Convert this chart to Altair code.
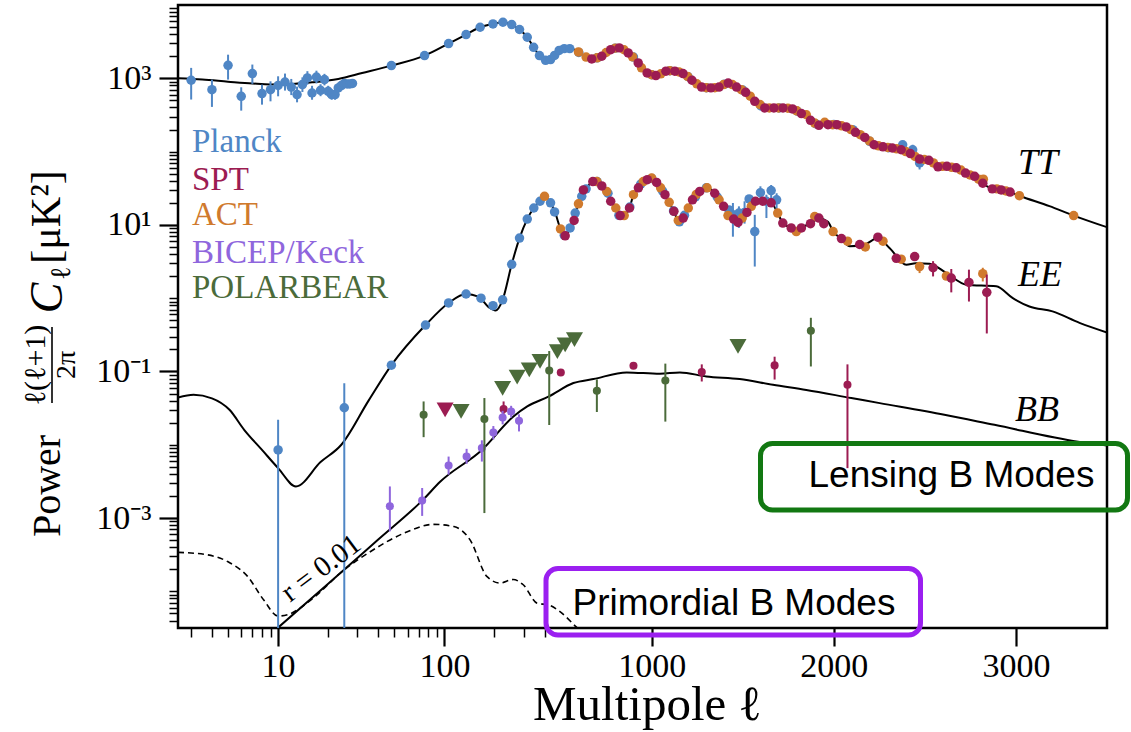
import altair as alt
import numpy as np
import pandas as pd

# ---------------------------------------------------------------------------
# Multipole axis: logarithmic up to ell = 500, linear above it.
# ---------------------------------------------------------------------------
L500 = float(np.log10(500.0))
K_LIN = 913.0  # multipoles per axis unit on the linear part
XT = f"datum.l <= 500 ? log(datum.l) / LN10 : {L500} + (datum.l - 500) / {K_LIN}"
X_MIN = float(np.log10(2.5))
X_MAX = L500 + 3000.0 / K_LIN
Y_MIN, Y_MAX = 10 ** -4.5, 1.0e4

SERIF = "Liberation Serif"
SANS = "Liberation Sans"

PLANCK = "#4f86c5"
SPT = "#9c1c52"
ACT = "#d07a2d"
BK = "#8f66dd"
PB = "#4b6b3a"

# ---------------------------------------------------------------------------
# Theory spectra, D_ell [uK^2]
# ---------------------------------------------------------------------------
tt_theory_l = [2.5, 3.5, 5, 7, 9, 12, 16, 23, 32, 48, 76, 106, 135, 164, 196, 225, 254, 283,
               315, 344, 373, 406, 435, 478, 525, 556, 598, 633, 671, 726, 775, 822, 871, 926,
               975, 1023, 1078, 1127, 1172, 1221, 1274, 1325, 1370, 1420, 1466, 1516, 1566,
               1621, 1671, 1721, 1773, 1822, 1872, 1918, 1968, 2017, 2068, 2119, 2170, 2221,
               2270, 2321, 2370, 2420, 2471, 2522, 2572, 2621, 2672, 2723, 2773, 2818, 2870,
               2919, 2968, 3019, 3184, 3317, 3500]
tt_theory_v = [1000, 960, 900, 850, 825, 835, 880, 980, 1180, 1490, 2040, 2980, 3950, 4970,
               5520, 5820, 5400, 4630, 3630, 2650, 2040, 1760, 1800, 2264, 2540, 2540, 2290,
               2000, 1840, 2000, 2460, 2600, 2220, 1620, 1185, 1090, 1250, 1250, 1160, 940,
               760, 740, 760, 860, 760, 644, 485, 400, 390, 394, 382, 330, 267, 228, 233, 233,
               217, 183, 156, 124, 116, 112, 106, 94, 79, 76, 62, 63, 60, 51, 46, 37, 31, 30,
               28, 25, 18, 13.4, 9.3]

ee_theory_l = [2.5, 3.1, 4, 5.1, 6.25, 8, 10, 12.8, 18, 24, 35, 48, 77, 106, 135, 160, 185,
               203, 224, 254, 283, 315, 345, 376, 405, 435, 466, 499, 525, 552, 584, 616, 644,
               677, 699, 726, 753, 775, 803, 827, 849, 878, 900, 927, 954, 976, 1000, 1027,
               1049, 1073, 1096, 1122, 1146, 1173, 1201, 1224, 1264, 1304, 1346, 1370, 1395,
               1419, 1450, 1474, 1497, 1523, 1547, 1570, 1610, 1656, 1692, 1720, 1766, 1802,
               1840, 1880, 1918, 1968, 1996, 2042, 2088, 2170, 2242, 2307, 2398, 2450, 2526,
               2618, 2728, 2892, 2983, 3074, 3201, 3349, 3500]
ee_theory_v = [0.044, 0.048, 0.043, 0.030, 0.016, 0.0085, 0.0048, 0.0027, 0.0058, 0.010, 0.040,
               0.122, 0.43, 0.86, 1.14, 1.05, 0.75, 0.68, 0.95, 2.9, 6.6, 12, 17, 21, 23.7,
               20, 14.2, 8.8, 7.1, 9.1, 15.3, 24.5, 31.9, 39, 39.5, 34, 28.6, 21, 17, 13.4,
               13.4, 17, 25.8, 32, 39, 41.4, 43.6, 38, 32, 25.8, 20.3, 15.3, 11.5, 12.4, 17,
               22, 28.6, 32, 27, 22, 17.9, 13.4, 12, 11, 12.4, 14.8, 17.9, 20.5, 21, 20, 14.5,
               10.6, 9.1, 8.6, 9.6, 10.8, 12.2, 11, 8.1, 6.5, 5.1, 5.4, 6.6, 4.8, 2.86, 3.0,
               2.95, 2.2, 1.53, 1.45, 1.0, 0.77, 0.66, 0.46, 0.34]

bb_lens_l = [10, 20, 40, 73.5, 94.6, 168, 260, 315, 425, 570, 680, 863, 1045, 1155, 1300,
             1483, 1666, 1849, 2096, 2252, 2607, 2882, 3341, 3500]
bb_lens_v = [3.2e-5, 1.27e-4, 5.1e-4, 1.73e-3, 3.15e-3, 8.5e-3, 0.0243, 0.0333, 0.0456,
             0.0695, 0.0788, 0.097, 0.093, 0.097, 0.0855, 0.0788, 0.0658, 0.056, 0.0434,
             0.037, 0.0257, 0.0187, 0.011, 0.0098]

bb_r001_l = [2.5, 3.6, 4.97, 6.55, 8.2, 10, 11.4, 15.7, 24.9, 36, 57, 86, 114, 143, 180, 216,
             259, 298, 361, 425, 500, 584, 716]
bb_r001_v = [3.4e-4, 3.2e-4, 2.55e-4, 1.6e-4, 7.6e-5, 4.6e-5, 4.8e-5, 7.6e-5, 1.96e-4, 3.5e-4,
             6.2e-4, 8.2e-4, 7.65e-4, 5.0e-4, 1.6e-4, 1.3e-4, 1.45e-4, 1.23e-4, 6.9e-5, 6.5e-5,
             5.2e-5, 3.3e-5, 1.6e-5]

# ---------------------------------------------------------------------------
# Planck
# ---------------------------------------------------------------------------
planck_tt_lowl_l = [3, 4, 5, 6, 7, 8, 9, 10, 11, 12, 13, 14, 15, 16, 17, 18, 19, 20, 21, 22,
                    23, 24, 25, 26, 27, 28]
planck_tt_lowl_v = [940, 700, 1505, 568, 1160, 618, 700, 800, 890, 760, 600, 820, 1010, 630,
                    1040, 686, 960, 665, 600, 600, 740, 795, 846, 838, 838, 850]
planck_tt_lowl_lo = [513, 407, 960, 362, 840, 437, 485, 568, 680, 590, 470, 650, 820, 510, 850,
                     570, 800, 560, 510, 510, 640, 690, 740, 740, 750, 760]
planck_tt_lowl_hi = [1387, 957, 2100, 754, 1540, 820, 910, 1065, 1160, 980, 770, 1030, 1250,
                     790, 1270, 830, 1150, 790, 710, 710, 860, 910, 960, 950, 940, 950]

planck_tt_l = [48, 76, 106, 135, 164, 196, 225, 254, 283, 315, 344, 373, 406, 435, 460, 490,
               520, 550, 600, 700, 800, 900, 1000, 1100, 1200, 1300, 1400, 1500, 1600, 1700,
               1800, 1900, 2000, 2104, 2197, 2300, 2378, 2433, 2471]
planck_tt_v = [1490, 2040, 2980, 3950, 4970, 5520, 5820, 5400, 4630, 3630, 2650, 2040, 1760,
               1800, 2050, 2400, 2540, 2540, 2250, 1900, 2580, 1950, 1120, 1270, 1050, 745,
               830, 690, 420, 394, 355, 240, 235, 199, 138, 113, 124, 106, 70]
planck_tt_err_l = [2433, 2471]
planck_tt_err_lo = [82, 57]
planck_tt_err_hi = [124, 81]

planck_ee_l = [10, 25, 48, 77, 106, 135, 166, 196, 224, 254, 283, 315, 345, 376, 435, 460, 520,
               552, 580, 616, 640, 700, 760, 820, 880, 940, 1000, 1060, 1120, 1152, 1180, 1240,
               1300, 1360, 1425, 1446, 1479, 1510, 1535, 1566, 1597, 1630, 1656, 1686]
planck_ee_v = [0.0085, 0.032, 0.122, 0.43, 0.86, 1.14, 1.0, 0.79, 0.95, 2.9, 6.6, 12, 17, 21,
               20, 15, 7.2, 9.1, 14.5, 24.5, 31, 39, 27, 13.5, 17.5, 36, 43, 29, 15.5, 11, 13.5,
               24, 32, 24, 16, 13.8, 14.5, 14.8, 22.6, 8.1, 27.5, 21, 29.4, 22]
planck_ee_err_l = [10, 25, 1446, 1479, 1510, 1566, 1597, 1630, 1656, 1686]
planck_ee_err_lo = [1e-6, 1e-6, 6.9, 9.1, 10.4, 2.7, 21, 12.4, 22, 16]
planck_ee_err_hi = [0.022, 0.069, 19.9, 17.9, 21, 13.7, 33.6, 25.8, 35, 27]

# ---------------------------------------------------------------------------
# SPT
# ---------------------------------------------------------------------------
spt_tt_l = [671, 726, 775, 822, 871, 926, 975, 1023, 1078, 1127, 1172, 1221, 1274, 1325, 1370,
            1420, 1466, 1516, 1566, 1621, 1671, 1721, 1773, 1822, 1872, 1918, 1968, 2017,
            2068, 2119, 2170, 2221, 2270, 2321, 2370, 2420, 2471, 2522, 2572, 2621, 2672,
            2723, 2773, 2818, 2870, 2919, 2968]
spt_tt_v = [1840, 2000, 2460, 2600, 2220, 1620, 1185, 1090, 1250, 1250, 1160, 940, 760, 740,
            760, 860, 760, 644, 485, 394, 394, 394, 382, 330, 267, 228, 233, 233, 217, 183,
            156, 124, 116, 112, 106, 94, 79, 76, 62, 63, 60, 51, 46, 37, 31, 30, 28]

spt_ee_l = [525, 574, 625, 677, 726, 775, 827, 878, 927, 976, 1027, 1073, 1122, 1173, 1224,
            1264, 1346, 1395, 1450, 1474, 1523, 1570, 1610, 1656, 1720, 1766, 1822, 1872,
            1918, 1945, 2042, 2142, 2242, 2343, 2444, 2545, 2645, 2742, 2840]
spt_ee_v = [7.1, 11.5, 30, 39, 34, 21, 13.4, 17, 32, 41.4, 38, 25.8, 15.3, 12.4, 22, 28.6, 27,
            17.9, 12, 10.8, 14.8, 21, 21, 20, 10.6, 9.1, 9.1, 10.4, 12.4, 10.4, 6.5, 5.4, 6.8,
            3.5, 3.7, 2.6, 1.88, 1.64, 1.2]
spt_ee_err_l = [2545, 2645, 2742, 2840]
spt_ee_err_lo = [1.98, 1.2, 0.9, 0.33]
spt_ee_err_hi = [3.2, 2.5, 2.45, 2.1]

spt_bb_l = [227, 501, 900, 1275, 1675, 2075]
spt_bb_v = [0.0307, 0.097, 0.12, 0.098, 0.121, 0.066]
spt_bb_err_l = [227, 1275, 1675, 2075]
spt_bb_err_lo = [0.0263, 0.073, 0.0776, 0.0048]
spt_bb_err_hi = [0.039, 0.125, 0.159, 0.125]
spt_bb_limit_l = [101]
spt_bb_limit_v = [0.030]

# ---------------------------------------------------------------------------
# ACT
# ---------------------------------------------------------------------------
act_tt_l = [598, 640, 700, 750, 800, 848, 895, 944, 1000, 1050, 1100, 1150, 1197, 1248, 1300,
            1347, 1395, 1443, 1492, 1541, 1594, 1646, 1696, 1748, 1797, 1849, 1895, 1950, 1993,
            2043, 2094, 2145, 2196, 2245, 2296, 2345, 2395, 2446, 2497, 2547, 2597, 2647,
            2698, 2748, 2795, 2821, 2895, 2945, 3019, 3317]
act_tt_v = [2290, 1950, 1900, 2250, 2580, 2450, 1960, 1390, 1120, 1150, 1270, 1220, 1060, 840,
            745, 745, 820, 820, 700, 570, 440, 394, 394, 390, 360, 318, 245, 251, 233, 225,
            200, 170, 140, 120, 114, 109, 100, 86, 78, 70, 63, 61, 56, 48, 42, 42, 31, 29,
            25, 13.4]

act_ee_l = [400, 499, 598, 699, 753, 803, 849, 900, 954, 1000, 1049, 1096, 1146, 1201, 1245,
            1304, 1370, 1419, 1497, 1547, 1692, 1794, 1895, 1996, 2075, 2173, 2270, 2370,
            2471, 2618, 2818]
act_ee_v = [24.5, 8.8, 19.4, 39, 28.6, 17, 13.4, 25.8, 39, 43.6, 32, 20.3, 11.5, 17, 26, 32,
            22, 13.4, 12.4, 17.9, 14.5, 8.1, 13, 8.1, 6.0, 5.0, 6.0, 3.4, 2.7, 2.0, 2.16]
act_ee_err_l = [2471, 2818]
act_ee_err_lo = [2.2, 1.69]
act_ee_err_hi = [3.0, 2.6]

# ---------------------------------------------------------------------------
# BICEP/Keck BB
# ---------------------------------------------------------------------------
bk_bb_l = [47, 73.5, 106, 136, 168, 197, 224, 252, 281]
bk_bb_v = [1.45e-3, 1.73e-3, 5.2e-3, 6.9e-3, 9.0e-3, 0.0147, 0.0236, 0.0285, 0.0212]
bk_bb_lo = [6.6e-4, 1.07e-3, 3.9e-3, 5.5e-3, 5.9e-3, 0.0118, 0.019, 0.0235, 0.0152]
bk_bb_hi = [2.7e-3, 2.57e-3, 6.9e-3, 8.8e-3, 0.0115, 0.018, 0.029, 0.034, 0.026]

# ---------------------------------------------------------------------------
# POLARBEAR BB
# ---------------------------------------------------------------------------
pb_bb_l = [75, 174, 427, 699, 1075, 1874]
pb_bb_v = [0.0257, 0.0224, 0.103, 0.0545, 0.0754, 0.36]
pb_bb_lo = [0.0127, 0.00117, 0.0186, 0.028, 0.0207, 0.117]
pb_bb_hi = [0.039, 0.0434, 0.19, 0.078, 0.128, 0.54]
pb_bb_limit_l = [126, 224, 274, 324, 376, 478, 525, 576, 1474]
pb_bb_limit_v = [0.0285, 0.059, 0.084, 0.105, 0.137, 0.187, 0.231, 0.271, 0.22]

# ---------------------------------------------------------------------------
# Axes: major ticks carry labels, minor ticks are shorter and unlabelled
# ---------------------------------------------------------------------------
TICK_FONT_SIZE = 34
x_major = [1.0, 2.0, L500 + 500 / K_LIN, L500 + 1500 / K_LIN, L500 + 2500 / K_LIN]
x_minor = [float(np.log10(m * d)) for d in (1, 10, 100) for m in range(2, 10)
           if 2.5 < m * d < 500]
x_test = "datum.value > 2.7 || datum.value == 1 || datum.value == 2"
x_axis = alt.Axis(
    values=x_major + x_minor,
    labelExpr=(f"datum.value > 2.7 ? format(500 + (datum.value - {L500}) * {K_LIN}, '.0f') : "
               "(datum.value == 1 || datum.value == 2) ? format(pow(10, datum.value), '.0f') : ''"),
    tickSize={"condition": {"test": x_test, "value": 18}, "value": 9},
    tickWidth={"condition": {"test": x_test, "value": 2.2}, "value": 1.5},
    labelFontSize=TICK_FONT_SIZE,
    orient="bottom", domain=False, grid=False, labelFont=SERIF,
    labelColor="black", tickColor="black", labelPadding=3, labelOverlap=False,
    labelFlush=False, labelBound=False, title=None)

y_major = [1e-3, 1e-1, 1e1, 1e3]
y_minor = [m * 10.0 ** d for d in range(-5, 4) for m in range(1, 10)
           if Y_MIN <= m * 10.0 ** d <= Y_MAX and not (m == 1 and d in (-3, -1, 1, 3))]
y_test = "datum.value == 1000 || datum.value == 10 || datum.value == 0.1 || datum.value == 0.001"
y_axis = alt.Axis(
    values=y_major + y_minor,
    labelExpr=("datum.value == 1000 ? '10³' : datum.value == 10 ? '10¹' : "
               "datum.value == 0.1 ? '10⁻¹' : datum.value == 0.001 ? '10⁻³' : ''"),
    tickSize={"condition": {"test": y_test, "value": 19}, "value": 9},
    tickWidth={"condition": {"test": y_test, "value": 2.2}, "value": 1.5},
    labelFontSize=TICK_FONT_SIZE,
    orient="left", domain=False, grid=False, labelFont=SERIF,
    labelColor="black", tickColor="black", labelPadding=8, labelOverlap=False,
    labelFlush=False, labelBound=False, title=None)

x_scale = alt.Scale(domain=[X_MIN, X_MAX], nice=False, zero=False)
y_scale = alt.Scale(type="log", domain=[Y_MIN, Y_MAX], nice=False)
X = alt.X("xt:Q", scale=x_scale, axis=x_axis)
Y = alt.Y("v:Q", scale=y_scale, axis=y_axis)
Y_LO = alt.Y("lo:Q", scale=y_scale, axis=y_axis)


# ---------------------------------------------------------------------------
# Building blocks
# ---------------------------------------------------------------------------
def curve(ls, vs, width=2.0, dash=None):
    kw = dict(color="black", strokeWidth=width, clip=True, interpolate="monotone")
    if dash:
        kw["strokeDash"] = dash
    return (alt.Chart(pd.DataFrame({"l": ls, "v": vs}))
            .transform_calculate(xt=XT).mark_line(**kw).encode(x=X, y=Y))


def dots(ls, vs, color, size=90):
    return (alt.Chart(pd.DataFrame({"l": ls, "v": vs}))
            .transform_calculate(xt=XT)
            .mark_circle(color=color, size=size, opacity=1, clip=True)
            .encode(x=X, y=Y))


def bars(ls, lo, hi, color, width=2.0):
    return (alt.Chart(pd.DataFrame({"l": ls, "lo": lo, "hi": hi}))
            .transform_calculate(xt=XT)
            .mark_rule(color=color, strokeWidth=width, clip=True)
            .encode(x=X, y=Y_LO, y2="hi:Q"))


def limits(ls, vs, color):
    return (alt.Chart(pd.DataFrame({"l": ls, "v": vs}))
            .transform_calculate(xt=XT)
            .mark_point(shape="triangle-down", filled=True, size=290, color=color,
                        opacity=1, clip=True)
            .encode(x=X, y=Y))


ONE = pd.DataFrame({"a": [0]})


def label(txt, x, y, size, color="black", font=SERIF, style="normal", angle=0,
          align="center", baseline="middle"):
    return (alt.Chart(ONE)
            .mark_text(text=txt, font=font, fontSize=size, color=color, fontStyle=style,
                       angle=angle, align=align, baseline=baseline)
            .encode(x=alt.value(x), y=alt.value(y)))


def box(x0, x1, y0, y1, color):
    return (alt.Chart(ONE)
            .mark_rect(filled=False, color=color, strokeWidth=5, cornerRadius=12)
            .encode(x=alt.value(x0), x2=alt.value(x1), y=alt.value(y0), y2=alt.value(y1)))


# ---------------------------------------------------------------------------
# Layers
# ---------------------------------------------------------------------------
layers = [
    curve(tt_theory_l, tt_theory_v),
    curve(ee_theory_l, ee_theory_v),
    curve(bb_lens_l, bb_lens_v),
    curve(bb_r001_l, bb_r001_v, width=1.6, dash=[6, 4]),
    # Planck
    bars(planck_tt_lowl_l, planck_tt_lowl_lo, planck_tt_lowl_hi, PLANCK),
    dots(planck_tt_lowl_l, planck_tt_lowl_v, PLANCK),
    bars(planck_tt_err_l, planck_tt_err_lo, planck_tt_err_hi, PLANCK),
    dots(planck_tt_l, planck_tt_v, PLANCK),
    bars(planck_ee_err_l, planck_ee_err_lo, planck_ee_err_hi, PLANCK),
    dots(planck_ee_l, planck_ee_v, PLANCK),
    # ACT
    dots(act_tt_l, act_tt_v, ACT),
    bars(act_ee_err_l, act_ee_err_lo, act_ee_err_hi, ACT),
    dots(act_ee_l, act_ee_v, ACT),
    # SPT
    dots(spt_tt_l, spt_tt_v, SPT),
    bars(spt_ee_err_l, spt_ee_err_lo, spt_ee_err_hi, SPT),
    dots(spt_ee_l, spt_ee_v, SPT),
    bars(spt_bb_err_l, spt_bb_err_lo, spt_bb_err_hi, SPT),
    dots(spt_bb_l, spt_bb_v, SPT, size=65),
    limits(spt_bb_limit_l, spt_bb_limit_v, SPT),
    # BICEP/Keck
    bars(bk_bb_l, bk_bb_lo, bk_bb_hi, BK),
    dots(bk_bb_l, bk_bb_v, BK, size=65),
    # POLARBEAR
    bars(pb_bb_l, pb_bb_lo, pb_bb_hi, PB),
    dots(pb_bb_l, pb_bb_v, PB, size=65),
    limits(pb_bb_limit_l, pb_bb_limit_v, PB),
]

# Spectrum names and the tensor-to-scalar annotation
layers += [
    label("TT", 860, 158, 36, style="italic"),
    label("EE", 862, 270, 36, style="italic"),
    label("BB", 859, 405, 36, style="italic"),
    label("r = 0.01", 143, 563, 29, angle=323),
]

# Experiment key
key = [("Planck", PLANCK, 147), ("SPT", SPT, 185), ("ACT", ACT, 220),
       ("BICEP/Keck", BK, 258), ("POLARBEAR", PB, 293)]
layers += [label(name, 14, yb, 33, color=col, align="left", baseline="alphabetic")
           for name, col, yb in key]

# Highlight boxes
layers += [
    box(582.5, 949.5, 438.5, 505, "#127812"),
    label("Lensing B Modes", 773.5, 481.5, 37, font=SANS, baseline="alphabetic"),
    box(368, 742.5, 563.5, 630, "#9b1ff0"),
    label("Primordial B Modes", 556, 610, 37, font=SANS, baseline="alphabetic"),
]

# Axis titles
layers += [
    label("Multipole ℓ", 469.5, 715, 49, baseline="alphabetic"),
    label("Power", -118, 481, 40, angle=270, baseline="alphabetic"),
    label("ℓ(ℓ+1)", -133, 360, 30, angle=270, baseline="alphabetic"),
    (alt.Chart(ONE).mark_rule(color="black", strokeWidth=1.6)
     .encode(x=alt.value(-126), y=alt.value(322), y2=alt.value(398))),
    label("2π", -103, 360, 28, angle=270, baseline="alphabetic"),
    label("C", -116, 293, 46, angle=270, style="italic", baseline="alphabetic"),
    label("ℓ", -108, 268, 28, angle=270, baseline="alphabetic"),
    label("[μK²]", -118, 212, 42, angle=270, baseline="alphabetic"),
]

chart = (
    alt.layer(*layers)
    .resolve_scale(x="shared", y="shared")
    .properties(width=929, height=623,
                autosize=alt.AutoSizeParams(type="none"),
                padding={"left": 178, "top": 5, "right": 24, "bottom": 104},
                background="white")
    .configure_view(stroke="black", strokeWidth=2.5)
    .configure_axis(labelFontSize=TICK_FONT_SIZE, labelFont=SERIF)
)

chart.save("out.html", embed_options={"renderer": "svg", "actions": False})
